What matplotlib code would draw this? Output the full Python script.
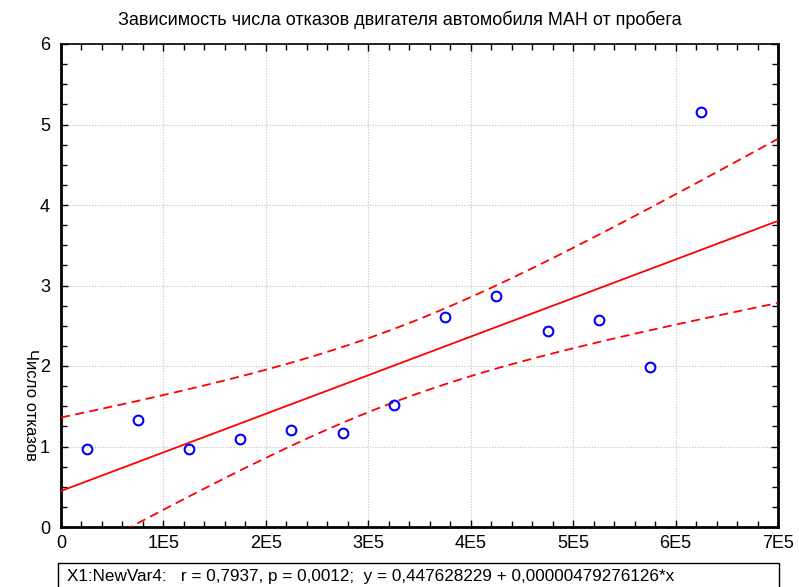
import numpy as np
import matplotlib
matplotlib.use("Agg")
import matplotlib.pyplot as plt
from matplotlib.patches import Rectangle
from matplotlib.ticker import MultipleLocator, FixedLocator

plt.rcParams['font.family'] = ['Liberation Sans', 'DejaVu Sans']

# Mileage (km) and number of engine failures
mileage = [25000, 75000, 125000, 175000, 225000, 275000, 325000,
           375000, 425000, 475000, 525000, 575000, 625000]
failures = [0.97, 1.33, 0.97, 1.09, 1.20, 1.17, 1.52,
            2.61, 2.87, 2.43, 2.57, 1.99, 5.16]

# Regression coefficients
intercept = 0.447628229
slope = 0.00000479276126
r_value = "0,7937"
p_value = "0,0012"

x_ticks = [0, 100000, 200000, 300000, 400000, 500000, 600000, 700000]
x_ticklabels = ["0", "1E5", "2E5", "3E5", "4E5", "5E5", "6E5", "7E5"]
y_ticks = [0, 1, 2, 3, 4, 5, 6]

title = "Зависимость числа отказов двигателя автомобиля МАН от пробега"
ylabel = "Число отказов"
stats_text = (f"X1:NewVar4:   r = {r_value}, p = {p_value};  "
              f"y = 0,447628229 + 0,00000479276126*x")

x = np.array(mileage, dtype=float)
y = np.array(failures, dtype=float)
n = len(x)

# 95% confidence band for the regression line
xs = np.linspace(0, 700000, 200)
fit = intercept + slope * xs
resid = y - (intercept + slope * x)
s = np.sqrt(np.sum(resid ** 2) / (n - 2))
sxx = np.sum((x - x.mean()) ** 2)
t_crit = 2.201
half = t_crit * s * np.sqrt(1.0 / n + (xs - x.mean()) ** 2 / sxx)

fig = plt.figure(figsize=(7.99, 5.87), dpi=100)
ax = fig.add_axes([61 / 799, 1 - 527 / 587, (778 - 61) / 799, (527 - 44) / 587])

ax.plot(xs, fit, color="#ff0000", lw=1.3, zorder=3)
ax.plot(xs, fit + half, color="#ff0000", lw=1.3, ls=(0, (5, 3)), zorder=3)
ax.plot(xs, fit - half, color="#ff0000", lw=1.3, ls=(0, (5, 3)), zorder=3)
ax.plot(x, y, ls="none", marker="o", ms=7, mfc="none", mec="#0000ff",
        mew=1.5, zorder=4)

ax.set_xlim(0, 700000)
ax.set_ylim(0, 6)
ax.xaxis.set_major_locator(FixedLocator(x_ticks))
ax.set_xticklabels(x_ticklabels)
ax.xaxis.set_minor_locator(MultipleLocator(20000))
ax.yaxis.set_major_locator(FixedLocator(y_ticks))
ax.yaxis.set_minor_locator(MultipleLocator(0.25))

ax.tick_params(axis="both", which="both", direction="in", top=True, right=True,
               labelsize=13, color="black")
ax.tick_params(which="major", length=5, width=1)
ax.tick_params(which="minor", length=4, width=1)
ax.tick_params(axis="x", pad=6)
ax.tick_params(axis="y", pad=8)

ax.grid(True, which="major", color="#c0c0c0", ls=(0, (1, 1.5)), lw=0.8)

for side in ["left", "bottom", "right"]:
    ax.spines[side].set_linewidth(2)
ax.spines["top"].set_linewidth(1.2)

fig.text(0.5, 1 - 20 / 587, title, ha="center", va="center", fontsize=13)
fig.text(30 / 799, 1 - 405 / 587, ylabel, ha="center", va="center",
         rotation=270, fontsize=12)

# Statistics box below the plot
fig.patches.append(Rectangle((58 / 799, -0.01), (779 - 58) / 799,
                             (587 - 563) / 587 + 0.01,
                             transform=fig.transFigure, fill=False,
                             ec="black", lw=1))
fig.text(67 / 799, 1 - 576 / 587, stats_text, ha="left", va="center",
         fontsize=12.3)

fig.savefig("out.png", dpi=100)
